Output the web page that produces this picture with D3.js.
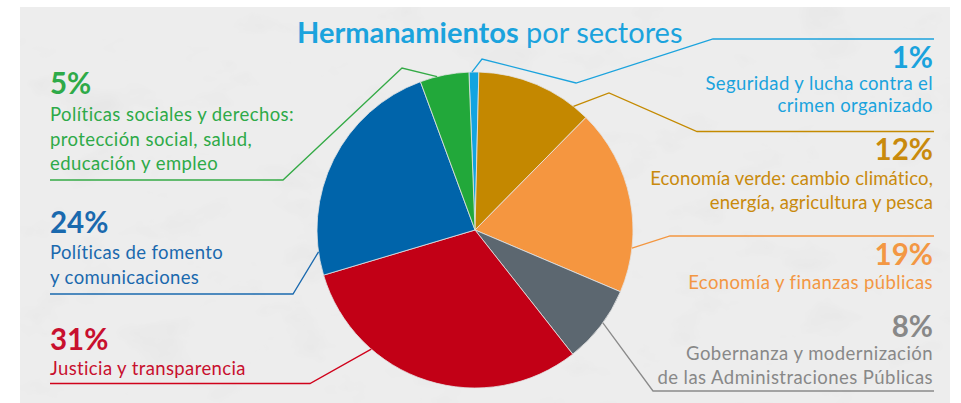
<!DOCTYPE html>
<html>
<head>
<meta charset="utf-8">
<script src="https://cdn.jsdelivr.net/npm/d3@7"></script>
<style>
  html, body { margin: 0; padding: 0; background: #ffffff; }
  svg { display: block; }
  text { font-family: Lato, "Noto Sans", sans-serif; }
</style>
</head>
<body>
<svg id="chart" width="961" height="403"></svg>
<script>
// ---- data ----
const sectors = [
  "Seguridad y lucha contra el crimen organizado",
  "Economía verde: cambio climático, energía, agricultura y pesca",
  "Economía y finanzas públicas",
  "Gobernanza y modernización de las Administraciones Públicas",
  "Justicia y transparencia",
  "Políticas de fomento y comunicaciones",
  "Políticas sociales y derechos: protección social, salud, educación y empleo"
];
const values = [1, 12, 19, 8, 31, 24, 5];
const percentLabels = ["1%", "12%", "19%", "8%", "31%", "24%", "5%"];
const labelLines = [
  ["Seguridad y lucha contra el", "crimen organizado"],
  ["Economía verde: cambio climático,", "energía, agricultura y pesca"],
  ["Economía y finanzas públicas"],
  ["Gobernanza y modernización", "de las Administraciones Públicas"],
  ["Justicia y transparencia"],
  ["Políticas de fomento", "y comunicaciones"],
  ["Políticas sociales y derechos:", "protección social, salud,", "educación y empleo"]
];
const titleBold = "Hermanamientos";
const titleRest = " por sectores";

// ---- styles ----
const sliceColors = ["#12a4e0", "#c48800", "#f59640", "#5c6770", "#c20016", "#0064aa", "#22a83a"];
const textColors  = ["#1aa3dd", "#c98a0c", "#f39743", "#888888", "#c8102e", "#1a69ae", "#2eaa48"];
const lineColors  = ["#1ba3dd", "#c48a00", "#f39640", "#8a8a8a", "#d0021b", "#1a69ae", "#34aa46"];

// ---- layout ----
const W = 961, H = 403;
const cx = 475, cy = 230, R = 158;
const startDeg = -2.2;
const layout = [
  { f: 0.30, pts: [[482, 59], [576, 83], [713, 39], [934, 39]], side: "right", pctY: 68,  lineY0: 90,  lh: 21.5, ls: 0.38 },
  { f: 0.86, pts: [[609, 93], [697, 131.5], [934, 131.5]],      side: "right", pctY: 160, lineY0: 185, lh: 23.5, ls: 0.15 },
  { f: 0.76, pts: [[670, 236], [934, 236]],                     side: "right", pctY: 265, lineY0: 288.5, lh: 24, ls: 0.38 },
  { f: 0.45, pts: [[653, 391], [934, 391]],                     side: "right", pctY: 336.5, lineY0: 360, lh: 24, ls: 0.45 },
  { f: 0.71, pts: [[310, 383.5], [50, 383.5]],                  side: "left",  pctY: 350, lineY0: 375, lh: 24, ls: 0.38 },
  { f: 0.10, pts: [[293, 294], [50, 294]],                      side: "left",  pctY: 233, lineY0: 259, lh: 24.5, ls: 0.38 },
  { f: 0.35, pts: [[402, 68], [283, 180], [50, 180]],           side: "left",  pctY: 94,  lineY0: 121, lh: 24.5, ls: 0.42 }
];

const svg = d3.select("#chart");

// background paper texture
const defs = svg.append("defs");
const filt = defs.append("filter").attr("id", "paper").attr("x", 0).attr("y", 0).attr("width", 1).attr("height", 1);
filt.append("feTurbulence").attr("type", "fractalNoise").attr("baseFrequency", "0.015 0.025").attr("numOctaves", 4).attr("seed", 7).attr("result", "n");
filt.append("feColorMatrix").attr("in", "n").attr("type", "matrix")
  .attr("values", "0.25 0.25 0.25 0 0.66  0.25 0.25 0.25 0 0.66  0.25 0.25 0.25 0 0.66  0 0 0 0 1")
  .attr("result", "c");
filt.append("feComposite").attr("in", "c").attr("in2", "SourceGraphic").attr("operator", "in");

svg.append("rect").attr("x", 20).attr("y", 7).attr("width", 930).attr("height", H - 7).attr("fill", "#e6e6e6");
svg.append("rect").attr("x", 20).attr("y", 7).attr("width", 930).attr("height", H - 7).attr("fill", "#e6e6e6")
  .attr("filter", "url(#paper)").attr("opacity", 0.28);

// title
const title = svg.append("text").attr("x", 297).attr("y", 43).attr("fill", "#1ba3dd").attr("font-size", 29);
title.append("tspan").attr("font-weight", 700).text(titleBold);
title.append("tspan").attr("font-weight", 400).text(titleRest);

// pie
const s0 = startDeg * Math.PI / 180;
const pie = d3.pie().sort(null).value(d => d).startAngle(s0).endAngle(s0 + 2 * Math.PI);
const arcs = pie(values);
const arc = d3.arc().innerRadius(0).outerRadius(R);

const g = svg.append("g").attr("transform", `translate(${cx},${cy})`);
g.selectAll("path.slice").data(arcs).join("path")
  .attr("class", "slice")
  .attr("d", arc)
  .attr("fill", (d, i) => sliceColors[i])
  .attr("stroke", "#e4e4e4")
  .attr("stroke-width", 0.8)
  .attr("stroke-linejoin", "round");

// leader lines
const line = d3.line();
arcs.forEach((a, i) => {
  const L = layout[i];
  const ang = a.startAngle + L.f * (a.endAngle - a.startAngle);
  const p0 = [cx + R * Math.sin(ang), cy - R * Math.cos(ang)];
  svg.append("path")
    .attr("d", line([p0, ...L.pts]))
    .attr("fill", "none")
    .attr("stroke", lineColors[i])
    .attr("stroke-width", 1.3)
    .attr("stroke-linejoin", "miter");
});

// labels
arcs.forEach((a, i) => {
  const L = layout[i];
  const x = L.side === "left" ? 50 : 933;
  const anchor = L.side === "left" ? "start" : "end";
  svg.append("text")
    .attr("x", x).attr("y", L.pctY)
    .attr("text-anchor", anchor)
    .attr("font-size", 29.5).attr("font-weight", 700)
    .attr("fill", textColors[i])
    .text(percentLabels[i]);
  labelLines[i].forEach((t, k) => {
    svg.append("text")
      .attr("x", x).attr("y", L.lineY0 + k * L.lh)
      .attr("text-anchor", anchor)
      .attr("font-size", 18.5).attr("font-weight", 400)
      .attr("letter-spacing", L.ls)
      .attr("fill", textColors[i])
      .text(t);
  });
});
</script>
</body>
</html>
